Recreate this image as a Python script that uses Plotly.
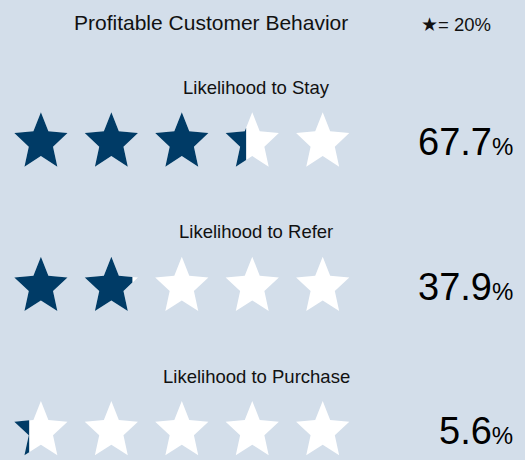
import math
import plotly.graph_objects as go

# Data
behaviors = ["Likelihood to Stay", "Likelihood to Refer", "Likelihood to Purchase"]
shares = [67.7, 37.9, 5.6]          # percent
star_unit = 20                      # percent represented by one star
n_stars = 5

# Styling / layout
BG = "#d3deea"
DARK = "#003b66"
FONT = "Liberation Sans, Arial, Helvetica, sans-serif"
W, H = 525, 460

row_top = 142.4       # centre of first star row
row_pitch = 144.3
star_x0 = 40.9
star_dx = 70.45
R = 28.0              # outer radius
r_in = 0.455 * R      # inner radius
sy = 1.074            # slight vertical stretch


def star_polygon(cx, cy):
    pts = []
    for k in range(10):
        a = math.radians(36 * k)
        rad = R if k % 2 == 0 else r_in
        pts.append((cx + rad * math.sin(a), cy - rad * math.cos(a) * sy))
    return pts


def clip_left(poly, xc):
    """Keep the part of a polygon with x <= xc (Sutherland-Hodgman)."""
    out = []
    n = len(poly)
    for i in range(n):
        p, q = poly[i], poly[(i + 1) % n]
        pin, qin = p[0] <= xc, q[0] <= xc
        if pin:
            out.append(p)
        if pin != qin:
            t = (xc - p[0]) / (q[0] - p[0])
            out.append((xc, p[1] + t * (q[1] - p[1])))
    return out


def closed_xy(poly):
    xs = [p[0] for p in poly] + [poly[0][0]]
    ys = [p[1] for p in poly] + [poly[0][1]]
    return xs, ys


fig = go.Figure()
annotations = []

for row, (name, share) in enumerate(zip(behaviors, shares)):
    cy = row_top + row * row_pitch
    filled = share / star_unit
    for i in range(n_stars):
        cx = star_x0 + i * star_dx
        poly = star_polygon(cx, cy)
        xs, ys = closed_xy(poly)
        fig.add_trace(go.Scatter(x=xs, y=ys, mode="lines", fill="toself",
                                 fillcolor="white", line=dict(width=0),
                                 hoverinfo="skip", showlegend=False))
        frac = min(max(filled - i, 0.0), 1.0)
        if frac > 0:
            xmin = min(p[0] for p in poly)
            xmax = max(p[0] for p in poly)
            part = poly if frac >= 1 else clip_left(poly, xmin + frac * (xmax - xmin))
            xs, ys = closed_xy(part)
            fig.add_trace(go.Scatter(x=xs, y=ys, mode="lines", fill="toself",
                                     fillcolor=DARK, line=dict(width=0),
                                     hoverinfo="skip", showlegend=False))
    annotations.append(dict(x=256, y=cy - 55, text=name, showarrow=False,
                            xanchor="center", yanchor="middle",
                            font=dict(size=18.5, color="#111111", family=FONT)))
    annotations.append(dict(
        x=515, y=cy, showarrow=False, xanchor="right", yanchor="middle",
        text=(f"<span style='font-size:38px'>{share:.1f}</span>"
              f"<span style='font-size:24px'>%</span>"),
        font=dict(size=38, color="#000000", family=FONT)))

annotations.append(dict(x=211, y=22, text="Profitable Customer Behavior",
                        showarrow=False, xanchor="center", yanchor="middle",
                        font=dict(size=21, color="#111111", family=FONT)))
annotations.append(dict(x=456, y=24, text=f"★= {star_unit}%",
                        showarrow=False, xanchor="center", yanchor="middle",
                        font=dict(size=18.5, color="#111111", family=FONT)))

fig.update_layout(
    width=W, height=H,
    margin=dict(l=0, r=0, t=0, b=0),
    paper_bgcolor=BG, plot_bgcolor=BG,
    xaxis=dict(range=[0, W], visible=False, fixedrange=True),
    yaxis=dict(range=[H, 0], visible=False, fixedrange=True),
    annotations=annotations,
)

fig.write_html("out.html")
